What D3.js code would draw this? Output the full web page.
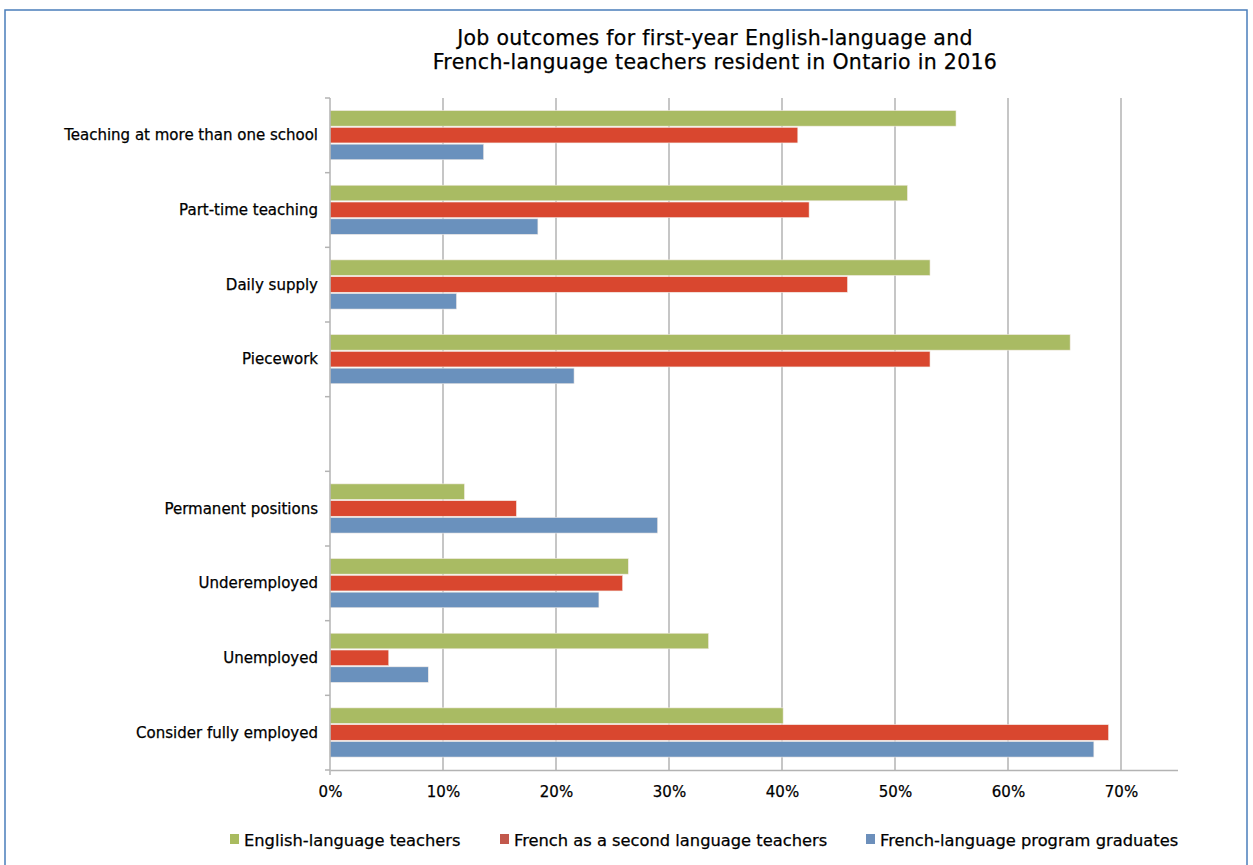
<!DOCTYPE html>
<html>
<head>
<meta charset="utf-8">
<script src="https://cdn.jsdelivr.net/npm/d3@7"></script>
<style>
  html, body { margin: 0; padding: 0; background: #fff; }
  svg { display: block; font-family: "DejaVu Sans", "Open Sans", Arial, sans-serif; }
  .lbl { fill: #000; stroke: #000; stroke-width: 0.25px; }
</style>
</head>
<body>
<svg id="chart" width="1253" height="865"></svg>
<script>
// Category rows, top to bottom ("" is the empty separator row)
const categories = [
  "Teaching at more than one school",
  "Part-time teaching",
  "Daily supply",
  "Piecework",
  "",
  "Permanent positions",
  "Underemployed",
  "Unemployed",
  "Consider fully employed"
];

const seriesNames = [
  "English-language teachers",
  "French as a second language teachers",
  "French-language program graduates"
];

// Percent values per series, in category order (null for the separator row)
const englishValues = [55.4, 51.1, 53.1, 65.5, null, 11.9, 26.4, 33.5, 40.1];
const fslValues     = [41.4, 42.4, 45.8, 53.1, null, 16.5, 25.9, 5.2, 68.9];
const frenchValues  = [13.6, 18.4, 11.2, 21.6, null, 29.0, 23.8, 8.7, 67.6];

const xTicks = [0, 10, 20, 30, 40, 50, 60, 70];
const xMax = 75;

const titleLines = [
  "Job outcomes for first-year English-language and",
  "French-language teachers resident in Ontario in 2016"
];

const barColors = ["#a9bb63", "#d9472f", "#6a91bd"];
const legendColors = ["#a9bb5f", "#c2584c", "#6c8fbb"];

const seriesValues = [englishValues, fslValues, frenchValues];

const svg = d3.select("#chart");

// outer frame
svg.append("rect")
  .attr("x", 5).attr("y", 10)
  .attr("width", 1242).attr("height", 870)
  .attr("fill", "none")
  .attr("stroke", "#4a7ebb")
  .attr("stroke-width", 1.5);

const plot = { left: 330, right: 1177.5, top: 98, bottom: 770 };

const x = d3.scaleLinear().domain([0, xMax]).range([plot.left, plot.right]);
const y = d3.scaleBand().domain(d3.range(categories.length)).range([plot.top, plot.bottom]).padding(0);
const inner = d3.scaleBand().domain(d3.range(seriesNames.length))
  .range([y.bandwidth() * 0.16, y.bandwidth() * 0.835]).padding(0);

// vertical gridlines
svg.append("g").selectAll("line")
  .data(xTicks.filter(d => d > 0))
  .join("line")
  .attr("x1", d => x(d)).attr("x2", d => x(d))
  .attr("y1", plot.top).attr("y2", plot.bottom)
  .attr("stroke", "#b3b3b3").attr("stroke-width", 1.5);

// bars
categories.forEach((cat, i) => {
  seriesValues.forEach((vals, s) => {
    const v = vals[i];
    if (v == null) return;
    svg.append("rect")
      .attr("x", x(0))
      .attr("y", y(i) + inner(s) + 0.6)
      .attr("width", x(v) - x(0))
      .attr("height", inner.bandwidth() - 1.2)
      .attr("fill", barColors[s])
      .attr("stroke", "#f3ece6")
      .attr("stroke-width", 0.6);
  });
});

// x axis
const xAxis = d3.axisBottom(x)
  .tickValues(xTicks)
  .tickFormat(d => d + "%")
  .tickSize(0)
  .tickPadding(16);
const gx = svg.append("g").attr("transform", `translate(0,${plot.bottom})`).call(xAxis);
gx.select(".domain").attr("stroke", "#b3b3b3").attr("stroke-width", 1.5);
gx.selectAll("text")
  .attr("class", "lbl")
  .attr("font-size", 15)
  .attr("font-family", "DejaVu Sans, sans-serif");

// y axis with ticks at band boundaries
const boundaries = d3.range(categories.length + 1).map(i => plot.top + i * y.bandwidth());
svg.append("line")
  .attr("x1", plot.left).attr("x2", plot.left)
  .attr("y1", plot.top).attr("y2", plot.bottom + 5)
  .attr("stroke", "#b3b3b3").attr("stroke-width", 1.5);
svg.append("g").selectAll("line")
  .data(boundaries)
  .join("line")
  .attr("x1", plot.left - 5).attr("x2", plot.left)
  .attr("y1", d => d).attr("y2", d => d)
  .attr("stroke", "#b3b3b3").attr("stroke-width", 1.5);

// category labels
svg.append("g").selectAll("text")
  .data(categories)
  .join("text")
  .attr("class", "lbl")
  .attr("x", 318)
  .attr("y", (d, i) => y(i) + inner(1) + inner.bandwidth() / 2)
  .attr("dy", "0.35em")
  .attr("text-anchor", "end")
  .attr("font-size", 15)
  .text(d => d);

// title
svg.append("text")
  .attr("class", "lbl")
  .attr("x", 715).attr("y", 45)
  .attr("text-anchor", "middle")
  .attr("font-size", 20.5)
  .attr("letter-spacing", 0.3)
  .selectAll("tspan")
  .data(titleLines)
  .join("tspan")
  .attr("x", 715)
  .attr("dy", (d, i) => i === 0 ? 0 : 24)
  .text(d => d);

// legend
const legendX = [230, 500, 866];
const legend = svg.append("g");
seriesNames.forEach((name, s) => {
  legend.append("rect")
    .attr("x", legendX[s]).attr("y", 834)
    .attr("width", 9).attr("height", 10)
    .attr("fill", legendColors[s]);
  legend.append("text")
    .attr("class", "lbl")
    .attr("x", legendX[s] + 14).attr("y", 840)
    .attr("dy", "0.35em")
    .attr("font-size", 16.3)
    .text(name);
});
</script>
</body>
</html>
